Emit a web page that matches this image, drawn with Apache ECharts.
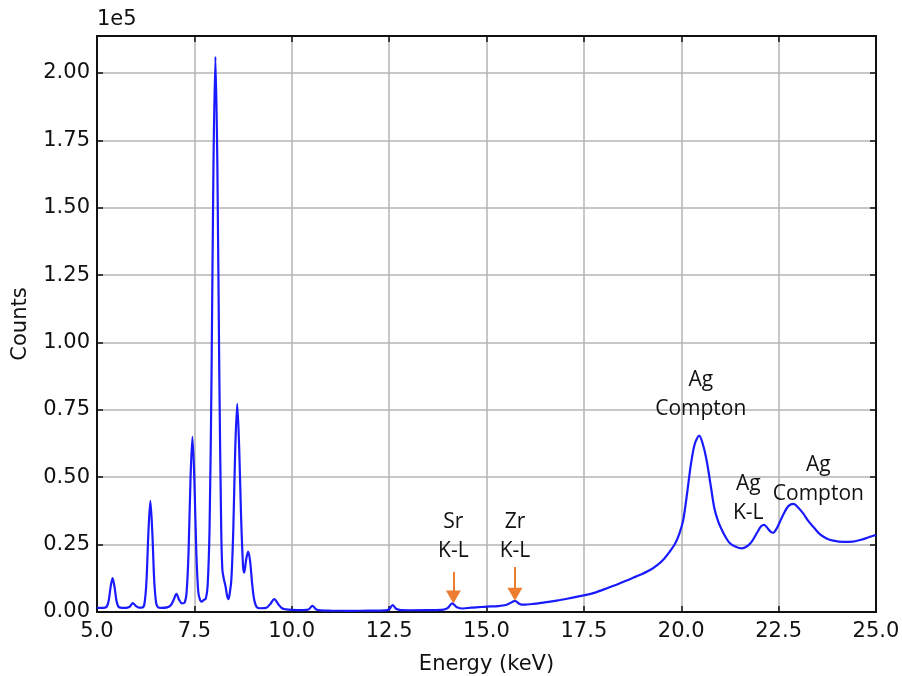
<!DOCTYPE html>
<html><head><meta charset="utf-8">
<script src="https://cdn.jsdelivr.net/npm/echarts@6/dist/echarts.min.js"></script>
<style>html,body{margin:0;padding:0;background:#fff}#c{width:902px;height:676px}</style>
</head><body><div id="c"></div>
<script>
const energy = [5.00,5.10,5.20,5.25,5.30,5.35,5.40,5.45,5.50,5.55,5.60,5.70,5.80,5.85,5.92,6.00,6.08,6.17,6.22,6.27,6.32,6.37,6.42,6.47,6.52,6.57,6.65,6.80,6.90,6.97,7.04,7.11,7.18,7.25,7.30,7.35,7.40,7.45,7.50,7.55,7.60,7.65,7.69,7.74,7.79,7.84,7.89,7.94,7.99,8.04,8.09,8.14,8.19,8.22,8.26,8.30,8.34,8.37,8.40,8.45,8.50,8.55,8.60,8.65,8.70,8.75,8.78,8.83,8.88,8.93,8.98,9.03,9.10,9.20,9.35,9.45,9.55,9.65,9.75,9.85,10.0,10.3,10.43,10.53,10.63,10.75,11.0,11.5,12.0,12.4,12.5,12.59,12.68,12.8,13.0,13.5,13.9,14.0,14.12,14.24,14.4,14.6,14.8,15.0,15.3,15.5,15.62,15.73,15.85,15.95,16.2,16.5,16.8,17.1,17.4,17.7,18.0,18.3,18.6,18.9,19.2,19.4,19.55,19.7,19.84,19.95,20.05,20.15,20.25,20.35,20.46,20.55,20.65,20.75,20.85,20.95,21.05,21.15,21.25,21.4,21.55,21.7,21.81,21.95,22.05,22.13,22.22,22.3,22.36,22.45,22.55,22.65,22.75,22.88,23.0,23.13,23.25,23.39,23.55,23.73,23.9,24.16,24.4,24.59,24.75,24.93,25.0];
const counts = [1500,1500,1600,2000,4200,9300,12600,9300,4200,2000,1600,1500,1700,2100,3300,2200,1600,1700,3250,11400,29600,41200,29600,11400,3250,1700,1500,1700,2600,4600,6700,4500,3200,3500,7300,22000,49000,65000,49000,22000,7500,4300,3800,4500,4800,9700,31300,87000,165600,206000,166000,88000,30000,15500,12000,9500,6000,4800,6200,12200,31000,61000,77200,61000,35000,17000,14600,19500,22400,19000,11000,5000,1800,1400,1600,3000,4800,3000,1400,1000,800,700,900,2300,900,600,500,450,500,600,1000,2600,1200,700,650,700,900,1400,3200,1800,1300,1600,1800,2000,2200,2600,3400,4100,3000,2700,3000,3600,4200,5000,5900,6800,8300,9900,11700,13500,15600,17600,19600,22300,25300,29000,34100,44000,55000,62500,65400,62500,56400,47500,38500,33500,30200,27500,25500,24200,23600,24500,26100,29500,31800,32300,31000,29700,29400,31000,34000,37000,39300,40100,38800,36600,34000,31600,29000,27300,26500,26000,26100,26700,27400,28300,28500];
const annotations = [
  {e:14.15, c:28000, text:'Sr\nK-L'},
  {e:15.73, c:28000, text:'Zr\nK-L'},
  {e:20.5, c:80800, text:'Ag\nCompton'},
  {e:21.72, c:42200, text:'Ag\nK-L'},
  {e:23.52, c:49000, text:'Ag\nCompton'}
];
const arrows = [
  {e:14.15, from:14800, to:5600},
  {e:15.73, from:16700, to:6600}
];

const chart = echarts.init(document.getElementById('c'));
const data = energy.map((e,i)=>[e,counts[i]]);
const axFont = {fontFamily:'DejaVu Sans', fontSize:21, color:'#111'};
const gridLine = {show:true, lineStyle:{color:'#b4b4b4', width:1.5}};
const frame = {show:true, onZero:false, lineStyle:{color:'#111', width:2}};
const tick = {show:true, inside:true, length:6, lineStyle:{color:'#111', width:1.5}};
chart.setOption({
  animation:false,
  grid:{left:97, right:26, top:36, bottom:64, outerBoundsMode:'none', containLabel:false},
  xAxis:[
    {type:'value', min:5, max:25, interval:2.5, position:'bottom',
     axisLine:frame, axisTick:tick, splitLine:gridLine,
     axisLabel:Object.assign({margin:9, formatter:v=>v.toFixed(1)}, axFont),
     name:'Energy (keV)', nameLocation:'middle', nameGap:42,
     nameTextStyle:{fontFamily:'DejaVu Sans', fontSize:21, color:'#111'}},
    {type:'value', min:5, max:25, interval:2.5, position:'top',
     axisLine:frame, axisTick:tick, splitLine:{show:false}, axisLabel:{show:false}}
  ],
  yAxis:[
    {type:'value', min:0, max:213700, interval:25000, position:'left',
     axisLine:frame, axisTick:tick, splitLine:gridLine,
     axisLabel:Object.assign({margin:7, showMaxLabel:false, formatter:v=>(v/1e5).toFixed(2)}, axFont),
     name:'Counts', nameLocation:'middle', nameGap:66, nameRotate:90,
     nameTextStyle:{fontFamily:'DejaVu Sans', fontSize:21, color:'#111'}},
    {type:'value', min:0, max:213700, interval:25000, position:'right',
     axisLine:frame, axisTick:tick, splitLine:{show:false}, axisLabel:{show:false}}
  ],
  series:[
    {type:'line', data:data, showSymbol:false, smooth:0.3,
     lineStyle:{color:'#1a1aff', width:2.2}, z:3,
     markLine:{silent:true, symbol:['none','triangle'], symbolSize:[15,13],
       label:{show:false},
       lineStyle:{color:'#ED7D31', width:2, type:'solid'},
       data: arrows.map(a=>[{coord:[a.e,a.from]},{coord:[a.e,a.to]}])},
     markPoint:{silent:true, symbol:'circle', symbolSize:0,
       data: annotations.map(a=>({coord:[a.e,a.c],
         label:{show:true, position:'inside', formatter:a.text, fontFamily:'Open Sans',
           fontSize:21, lineHeight:29, color:'#111', align:'center', verticalAlign:'middle'}}))}
    }
  ],
  graphic:[{type:'text', left:97, top:9, style:{text:'1e5', fontFamily:'DejaVu Sans', fontSize:21, fill:'#111'}}]
});
</script></body></html>
